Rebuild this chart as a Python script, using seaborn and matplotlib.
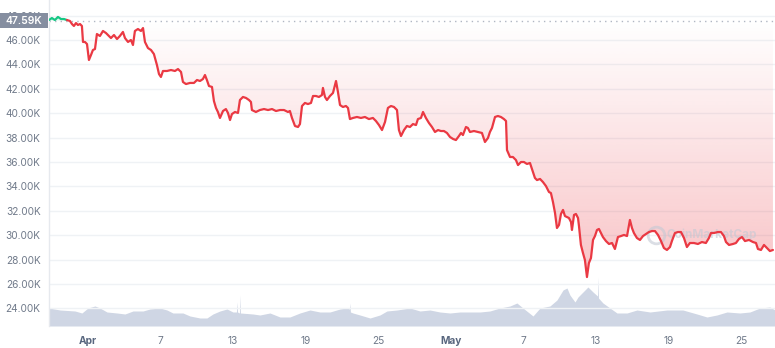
import numpy as np
import pandas as pd
import matplotlib
matplotlib.use("Agg")
import matplotlib.pyplot as plt
import matplotlib.dates as mdates
import matplotlib.transforms as mtransforms
from matplotlib.patches import PathPatch, Rectangle
from matplotlib.path import Path
from matplotlib.colors import to_rgb
import seaborn as sns

# ---------------- data ----------------
ORIGIN = "2022-04-01"          # day 0
START_PRICE = 47590            # opening price of the period

price_days = [-3.22, -2.98, -2.73, -2.48, -2.23, -1.98, -1.74, -1.49, -1.32, -1.16,
              -0.99, -0.83, -0.66, -0.50, -0.41, -0.25, -0.08, 0.08, 0.25, 0.41,
              0.58, 0.74, 0.99, 1.24, 1.49, 1.65, 1.90, 2.15, 2.40, 2.64,
              2.89, 3.06, 3.31, 3.55, 3.72, 3.88, 4.13, 4.38, 4.55, 4.71,
              4.96, 5.21, 5.45, 5.70, 5.87, 6.03, 6.20, 6.53, 6.86, 7.19,
              7.44, 7.69, 7.85, 8.10, 8.43, 8.76, 9.01, 9.26, 9.50, 9.67,
              9.83, 10.00, 10.25, 10.41, 10.58, 10.74, 10.91, 11.16, 11.40, 11.57,
              11.74, 11.90, 12.15, 12.40, 12.56, 12.81, 13.06, 13.31, 13.47, 13.55,
              13.88, 14.21, 14.55, 14.88, 15.21, 15.54, 15.87, 16.20, 16.53, 16.69,
              16.86, 17.11, 17.36, 17.52, 17.69, 17.93, 18.18, 18.43, 18.60, 18.84,
              19.09, 19.34, 19.42, 19.59, 19.75, 20.00, 20.25, 20.50, 20.66, 20.83,
              21.07, 21.32, 21.49, 21.65, 21.90, 22.23, 22.56, 22.89, 23.22, 23.55,
              23.80, 24.05, 24.30, 24.55, 24.79, 25.04, 25.29, 25.54, 25.70, 25.87,
              26.12, 26.36, 26.61, 26.86, 27.11, 27.27, 27.52, 27.69, 27.93, 28.18,
              28.43, 28.68, 28.93, 29.17, 29.42, 29.67, 29.92, 30.17, 30.41, 30.66,
              30.83, 30.99, 31.24, 31.40, 31.57, 31.90, 32.23, 32.56, 32.81, 33.06,
              33.22, 33.39, 33.64, 33.88, 34.13, 34.38, 34.55, 34.63, 34.88, 35.12,
              35.37, 35.54, 35.79, 36.03, 36.28, 36.53, 36.78, 36.94, 37.11, 37.36,
              37.60, 37.85, 38.10, 38.26, 38.43, 38.60, 38.76, 38.93, 39.09, 39.26,
              39.42, 39.59, 39.75, 39.92, 40.00, 40.17, 40.33, 40.50, 40.58, 40.74,
              40.91, 41.07, 41.24, 41.40, 41.57, 41.74, 41.90, 42.07, 42.23, 42.40,
              42.56, 42.81, 43.06, 43.31, 43.55, 43.80, 44.05, 44.30, 44.55, 44.79,
              44.96, 45.12, 45.37, 45.62, 45.87, 46.12, 46.36, 46.61, 46.86, 47.11,
              47.36, 47.60, 47.85, 48.10, 48.26, 48.51, 48.76, 49.01, 49.26, 49.50,
              49.75, 50.08, 50.41, 50.74, 51.07, 51.32, 51.49, 51.74, 52.07, 52.31,
              52.56, 52.73, 52.98, 53.31, 53.55, 53.80, 54.05, 54.30, 54.63, 54.96,
              55.21, 55.37, 55.62, 55.87, 56.12, 56.36, 56.61]

price_usd = [47640, 47800, 47640, 47890, 47720, 47720, 47640, 47560, 47310, 47150,
             47390, 47230, 47310, 47150, 45840, 45840, 45670, 44360, 44770, 45180,
             45260, 46490, 46330, 46740, 46570, 46410, 46160, 46410, 46080, 46330,
             46660, 46160, 45840, 46000, 45590, 46740, 46900, 46740, 46980, 45840,
             45340, 45180, 44850, 43950, 43210, 42970, 43460, 43460, 43540, 43460,
             43620, 43380, 42560, 42390, 42480, 42480, 42720, 42640, 42800, 43130,
             42720, 42230, 42150, 41000, 40430, 40100, 39610, 40180, 40340, 40020,
             39440, 39930, 40100, 40020, 41080, 41330, 41250, 41080, 40920, 40260,
             40100, 40260, 40340, 40260, 40340, 40180, 40260, 40260, 40100, 40180,
             39610, 38950, 38870, 39110, 40590, 40840, 40750, 40840, 41410, 41410,
             41330, 41490, 42070, 41330, 41080, 41410, 41660, 42640, 41740, 40670,
             40510, 40590, 40430, 39520, 39610, 39690, 39610, 39690, 39520, 39610,
             39360, 39030, 38620, 39280, 40430, 40590, 40510, 40260, 38620, 38130,
             38620, 38950, 38870, 39110, 39030, 39520, 39610, 40100, 39610, 39200,
             38870, 38460, 38620, 38540, 38540, 38380, 38050, 37890, 37800, 38130,
             38380, 38210, 38870, 38790, 38460, 38540, 38460, 38380, 37640, 37970,
             38460, 38790, 39690, 39770, 39690, 39520, 39360, 36980, 36410, 36410,
             36160, 35750, 36000, 36000, 35840, 35920, 35180, 34690, 34520, 34610,
             34360, 34030, 33540, 33460, 32720, 31820, 30590, 30840, 31740, 32070,
             31570, 31490, 31410, 31080, 30430, 31660, 31740, 31410, 30750, 29200,
             28540, 27970, 26570, 27720, 28130, 29610, 29930, 30430, 30510, 30180,
             29850, 29520, 29280, 29360, 28870, 29850, 29930, 30020, 29930, 31250,
             30590, 30180, 29770, 29610, 29930, 30100, 30260, 30340, 30340, 30020,
             29520, 28950, 28790, 29030, 29520, 30180, 30260, 30260, 29770, 29030,
             29360, 29360, 29280, 29440, 29360, 29770, 30180, 30180, 30260, 30260,
             29930, 29440, 29200, 29280, 29360, 29690, 29850, 29520, 29610, 29440,
             29360, 28870, 28790, 29200, 28950, 28700, 28790]

volume_days = [-3.22, -2.31, -1.07, -0.50, 0.00, 0.58, 0.99, 1.57, 2.40, 3.06,
               3.72, 4.55, 5.12, 5.95, 6.53, 7.02, 7.85, 8.43, 9.26, 9.83,
               10.33, 10.91, 11.49, 11.98, 12.27, 12.31, 12.36, 12.52, 12.56, 12.60,
               13.64, 14.21, 15.04, 15.87, 16.69, 17.52, 18.35, 19.17, 20.00, 20.83,
               21.40, 21.61, 21.65, 21.69, 21.90, 22.48, 23.31, 24.13, 24.71, 25.54,
               26.61, 27.44, 28.26, 29.09, 29.92, 30.74, 31.57, 32.40, 33.22, 34.05,
               34.88, 35.45, 35.95, 36.78, 37.36, 38.18, 38.76, 39.26, 39.59, 39.83,
               40.25, 40.50, 40.91, 41.32, 41.74, 42.11, 42.15, 42.19, 42.56, 43.14,
               43.72, 44.55, 45.37, 46.45, 47.85, 49.17, 50.33, 51.16, 51.98, 52.81,
               53.88, 54.71, 55.54, 56.36, 56.78]

volume_bn = [36, 32, 30, 26, 36, 40, 36, 28, 26, 24,
             30, 30, 34, 36, 32, 26, 26, 20, 16, 16,
             24, 30, 34, 28, 28, 48, 28, 26, 62, 26,
             24, 22, 26, 18, 18, 26, 32, 28, 28, 34,
             36, 34, 46, 28, 26, 22, 16, 22, 30, 32,
             36, 30, 32, 28, 26, 28, 28, 28, 30, 36,
             40, 46, 36, 20, 36, 40, 52, 72, 76, 62,
             48, 58, 68, 78, 68, 60, 98, 56, 46, 36,
             26, 26, 32, 28, 32, 32, 24, 18, 22, 28,
             26, 28, 36, 38, 32]

y_ticks = [24000, 26000, 28000, 30000, 32000, 34000, 36000, 38000, 40000,
           42000, 44000, 46000, 48000]
x_tick_dates = ["2022-04-01", "2022-04-07", "2022-04-13", "2022-04-19", "2022-04-25",
                "2022-05-01", "2022-05-07", "2022-05-13", "2022-05-19", "2022-05-25"]
x_tick_labels = ["Apr", "7", "13", "19", "25", "May", "7", "13", "19", "25"]
month_labels = ["Apr", "May"]

# ---------------- style ----------------
RED = "#ea3943"
GREEN = "#16c784"
VOL = "#cfd6e4"
GRID = "#eff2f5"
LABEL = "#707a8a"
MONTH = "#58667e"

sns.set_theme(style="white")
plt.rcParams["font.family"] = ["Inter", "DejaVu Sans"]

origin = pd.Timestamp(ORIGIN)
df = pd.DataFrame({"time": origin + pd.to_timedelta(price_days, unit="D"),
                   "price": price_usd})
dv = pd.DataFrame({"time": origin + pd.to_timedelta(volume_days, unit="D"),
                   "volume": volume_bn})

fig = plt.figure(figsize=(7.75, 3.48), dpi=100)
ax = fig.add_axes([49 / 775, 22 / 348, 726 / 775, 326 / 348])
ax2 = ax.twinx()
ax.set_zorder(ax2.get_zorder() + 1)
ax.patch.set_visible(False)

# volume area (hidden secondary axis)
ax2.fill_between(dv["time"], dv["volume"], 0, color=VOL, lw=0)
ax2.set_ylim(0, 652)
ax2.set_axis_off()

YLO, YHI = 22557, 49279
xnum = mdates.date2num(dv["time"])

# gradient fill between price and starting price
prices = df["price"].to_numpy()
poly = ax.fill_between(df["time"], prices, START_PRICE, where=prices <= START_PRICE,
                       interpolate=True, facecolor="none", edgecolor="none")
clip_path = Path.make_compound_path(*poly.get_paths())
clip = PathPatch(clip_path, transform=ax.transData, fc="none", ec="none")
ax.add_patch(clip)
n = 400
vals = np.linspace(YLO, YHI, n)
alpha = np.clip((START_PRICE - vals) / (START_PRICE - 26500) * 0.30, 0, 1)
rgba = np.zeros((n, 1, 4))
rgba[..., :3] = to_rgb(RED)
rgba[..., 3] = alpha[:, None]
im = ax.imshow(rgba, extent=[xnum[0], xnum[-1], YLO, YHI], origin="lower",
               aspect="auto", interpolation="bilinear", zorder=1)
im.set_clip_path(clip)

poly_g = ax.fill_between(df["time"], prices, START_PRICE, where=prices >= START_PRICE,
                         interpolate=True, facecolor=GREEN, alpha=0.12, edgecolor="none")

# watermark
ax.text(0.913, 0.279, "CoinMarketCap", transform=ax.transAxes, color="#c3c9d4",
        alpha=0.6, fontsize=8.5, fontweight="bold", ha="center", va="center", zorder=1.8)
ax.plot([0.836], [0.279], transform=ax.transAxes, marker="o", ms=12, mfc="none",
        mec="#c3c9d4", mew=2, alpha=0.6, zorder=1.8)

# starting price dotted reference
ax.axhline(START_PRICE, color="#b0b7c3", lw=1, ls=(0, (1, 3)), zorder=1.9)

# price line
k = int(np.argmax(prices < START_PRICE))
sns.lineplot(data=df.iloc[:k], x="time", y="price", color=GREEN, lw=1.6, ax=ax,
             estimator=None, sort=False, zorder=3)
sns.lineplot(data=df.iloc[k - 1:], x="time", y="price", color=RED, lw=1.6, ax=ax,
             estimator=None, sort=False, zorder=3)

# axes
ax.set_xlim(dv["time"].iloc[0], dv["time"].iloc[-1])
ax.set_ylim(YLO, YHI)
ax.set_xlabel("")
ax.set_ylabel("")
ax.set_yticks(y_ticks)
ax.set_yticklabels([f"{v / 1000:.2f}K" for v in y_ticks])
ax.set_xticks(pd.to_datetime(x_tick_dates))
ax.set_xticklabels(x_tick_labels)
ax.tick_params(axis="y", length=0, pad=6, labelsize=7.3, labelcolor=LABEL)
ax.tick_params(axis="x", length=3, width=0.8, color="#c8ccd4", pad=4,
               labelsize=7.3, labelcolor=LABEL)
for lbl in ax.get_xticklabels():
    if lbl.get_text() in month_labels:
        lbl.set_fontweight("bold")
        lbl.set_color(MONTH)
ax.yaxis.grid(True, color=GRID, lw=1)
ax.xaxis.grid(False)
ax.set_axisbelow(True)
for side in ("top", "right", "bottom"):
    ax.spines[side].set_visible(False)
ax.spines["left"].set_color("#e6e9ee")
ax.spines["left"].set_linewidth(1)

# current/start price tag on the y axis
btrans = mtransforms.blended_transform_factory(fig.transFigure, ax.transData)
ax.add_patch(Rectangle((0, START_PRICE - 615), 48 / 775, 1230, transform=btrans,
                       fc="#858ea0", ec="none", clip_on=False, zorder=9))
ax.text(24 / 775, START_PRICE, f"{START_PRICE / 1000:.2f}K", transform=btrans,
        ha="center", va="center", color="white", fontsize=7.5, fontweight="semibold",
        zorder=10, clip_on=False)

fig.savefig("out.png", dpi=100, facecolor="white")
